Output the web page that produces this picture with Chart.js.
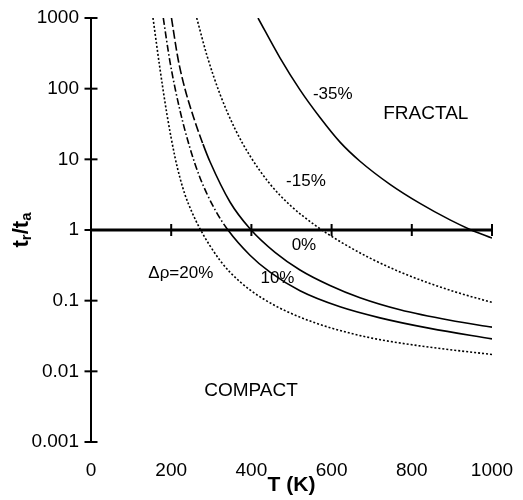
<!DOCTYPE html>
<html>
<head>
<meta charset="utf-8">
<title>tr/ta vs T</title>
<script src="https://cdn.jsdelivr.net/npm/chart.js@4.4.1/dist/chart.umd.min.js"></script>
<style>
  html, body { margin: 0; padding: 0; background: #fff; }
</style>
</head>
<body>
<canvas id="chart" width="523" height="500"></canvas>
<script>
  'use strict';

  // Axis ticks
  const xTicks = [0, 200, 400, 600, 800, 1000];
  const yTicks = [0.001, 0.01, 0.1, 1, 10, 100, 1000];
  const yTickLabels = ['0.001', '0.01', '0.1', '1', '10', '100', '1000'];

  // Boundary tr/ta = 1 and its tick marks
  const baseT = [0, 1000];
  const baseV = [1, 1];
  const baseTickT = [200, 400, 600, 800, 1000];

  // Curves (T in K, tr/ta)
  const tRho20 = [154.6, 172.1, 189.5, 209.5, 221.9, 234.4, 251.9, 271.8, 296.8, 321.7, 346.6, 396.5, 458.9, 521.2, 596, 695.8, 820.4, 1000];
  const vRho20 = [1000, 190, 43, 10.7, 5.46, 3.16, 1.78, 1.04, 0.597, 0.372, 0.253, 0.142, 0.0852, 0.0585, 0.0415, 0.0299, 0.0229, 0.0173];

  const tRho10 = [180.3, 197, 221.9, 246.9, 271.8, 309.2, 341.6, 396.5, 446.4, 521.2, 621, 720.7, 845.4, 1000];
  const vRho10 = [1000, 240, 49.2, 14.4, 5.5, 1.94, 1, 0.44, 0.253, 0.138, 0.0818, 0.0571, 0.0405, 0.0288];

  const tRho0 = [200.7, 217, 234.4, 259.4, 279.3, 296.8, 346.6, 396.5, 458.9, 521.2, 596, 670.8, 770.6, 895.3, 1000];
  const vRho0 = [1000, 265, 99, 34.2, 16.4, 9.23, 2.49, 1.04, 0.482, 0.272, 0.164, 0.11, 0.0743, 0.0527, 0.0422];

  const tRhoM15 = [263.6, 289.3, 321.7, 359.1, 396.5, 446.4, 496.3, 558.6, 621, 695.8, 770.6, 845.4, 920.2, 1000];
  const vRhoM15 = [1000, 293, 83.6, 27, 11.2, 4.47, 2.25, 1.17, 0.687, 0.4, 0.255, 0.175, 0.127, 0.0946];

  const tRhoM35 = [416.5, 471.3, 521.2, 571.1, 621, 670.8, 745.6, 820.4, 895.3, 945.1, 1000];
  const vRhoM35 = [1000, 273, 96, 39, 17.5, 9.4, 4.43, 2.38, 1.39, 1.02, 0.77];

  // Text labels placed in data coordinates
  const notes = [
    { text: '-35%', t: 603, v: 84, size: 17 },
    { text: 'FRACTAL', t: 835, v: 44, size: 19 },
    { text: '-15%', t: 536, v: 4.9, size: 17 },
    { text: '0%', t: 531, v: 0.6, size: 17 },
    { text: '10%', t: 465, v: 0.205, size: 17 },
    { text: 'Δρ=20%', t: 224, v: 0.245, size: 17 },
    { text: 'COMPACT', t: 399, v: 0.0053, size: 19 }
  ];

  const FONT = "'Liberation Sans', Arial, Helvetica, sans-serif";
  const DOTTED = [2, 2];

  function pts(xs, ys) {
    return xs.map(function (x, i) { return { x: x, y: ys[i] }; });
  }

  function curve(label, xs, ys, dash, extra) {
    return Object.assign({
      label: label,
      data: pts(xs, ys),
      showLine: true,
      borderColor: '#000',
      borderWidth: 1.6,
      borderDash: dash,
      pointRadius: 0,
      cubicInterpolationMode: 'monotone',
      fill: false
    }, extra || {});
  }

  // Keep tick labels from pushing the plot area around
  function noScalePadding(scale) {
    scale.paddingTop = 0;
    scale.paddingBottom = 0;
    scale.paddingLeft = 0;
    scale.paddingRight = 0;
  }

  /**
   * Text labels and the subscripted y title.
   */
  const notesPlugin = {
    id: 'notes',
    afterDatasetsDraw: function (chart) {
      const ctx = chart.ctx;
      const xs = chart.scales.x;
      const ys = chart.scales.y;
      ctx.save();
      ctx.fillStyle = '#000';
      ctx.textAlign = 'center';
      ctx.textBaseline = 'middle';
      notes.forEach(function (n) {
        ctx.font = n.size + 'px ' + FONT;
        ctx.fillText(n.text, xs.getPixelForValue(n.t), ys.getPixelForValue(n.v));
      });
      ctx.restore();

      // y title: t_r / t_a
      const area = chart.chartArea;
      const parts = [
        { s: 't', size: 22, dy: 0 },
        { s: 'r', size: 15, dy: 5 },
        { s: '/', size: 22, dy: 0 },
        { s: 't', size: 22, dy: 0 },
        { s: 'a', size: 15, dy: 5 }
      ];
      ctx.save();
      ctx.fillStyle = '#000';
      ctx.textBaseline = 'middle';
      ctx.textAlign = 'left';
      let total = 0;
      parts.forEach(function (p) {
        ctx.font = 'bold ' + p.size + 'px ' + FONT;
        p.w = ctx.measureText(p.s).width;
        total += p.w;
      });
      ctx.translate(22, (area.top + area.bottom) / 2);
      ctx.rotate(-Math.PI / 2);
      let x = -total / 2;
      parts.forEach(function (p) {
        ctx.font = 'bold ' + p.size + 'px ' + FONT;
        ctx.fillText(p.s, x, p.dy);
        x += p.w;
      });
      ctx.restore();
    }
  };

  new Chart(document.getElementById('chart'), {
    type: 'scatter',
    data: {
      datasets: [
        curve('Δρ=20%', tRho20, vRho20, DOTTED),
        curve('10%', tRho10, vRho10, [], {
          segment: {
            borderDash: function (c) { return c.p1.parsed.y >= 1 ? [7, 2.5, 1.5, 2.5] : []; }
          }
        }),
        curve('0%', tRho0, vRho0, [], {
          segment: {
            borderDash: function (c) { return c.p1.parsed.y >= 16 ? [9, 3] : []; }
          }
        }),
        curve('-15%', tRhoM15, vRhoM15, DOTTED),
        curve('-35%', tRhoM35, vRhoM35, []),
        {
          label: 'boundary',
          data: pts(baseT, baseV),
          showLine: true,
          borderColor: '#000',
          borderWidth: 3,
          pointRadius: 0
        },
        {
          label: 'boundary ticks',
          data: baseTickT.map(function (t) { return { x: t, y: 1 }; }),
          showLine: false,
          pointStyle: 'line',
          rotation: 90,
          pointRadius: 6,
          pointBorderWidth: 2,
          pointBorderColor: '#000',
          clip: false
        },
        {
          label: 'y ticks',
          data: yTicks.map(function (v) { return { x: 0, y: v }; }),
          showLine: false,
          pointStyle: 'line',
          pointRadius: 6.5,
          pointBorderWidth: 2,
          pointBorderColor: '#000',
          clip: false
        }
      ]
    },
    options: {
      responsive: false,
      animation: false,
      events: [],
      color: '#000',
      layout: { padding: { top: 18, right: 31, left: 0, bottom: 0 } },
      plugins: {
        legend: { display: false },
        tooltip: { enabled: false }
      },
      scales: {
        x: {
          type: 'linear',
          min: 0,
          max: 1000,
          afterBuildTicks: function (scale) {
            scale.ticks = xTicks.map(function (v) { return { value: v }; });
          },
          afterFit: function (scale) {
            scale.height = 58;
            noScalePadding(scale);
          },
          grid: { display: false, drawTicks: false },
          border: { display: false },
          ticks: {
            color: '#000',
            padding: 17,
            maxRotation: 0,
            font: { family: FONT, size: 19 },
            callback: function (value) { return String(value); }
          },
          title: {
            display: true,
            text: 'T (K)',
            color: '#000',
            padding: { top: 0, bottom: 2 },
            font: { family: FONT, size: 21, weight: 'bold' }
          }
        },
        y: {
          type: 'logarithmic',
          min: 0.001,
          max: 1000,
          afterBuildTicks: function (scale) {
            scale.ticks = yTicks.map(function (v) { return { value: v }; });
          },
          afterFit: function (scale) {
            scale.width = 91;
            noScalePadding(scale);
          },
          grid: { display: false, drawTicks: false },
          border: { display: true, color: '#000', width: 2 },
          ticks: {
            color: '#000',
            padding: 12,
            font: { family: FONT, size: 19 },
            callback: function (value, index) { return yTickLabels[index]; }
          }
        }
      }
    },
    plugins: [notesPlugin]
  });
</script>
</body>
</html>
